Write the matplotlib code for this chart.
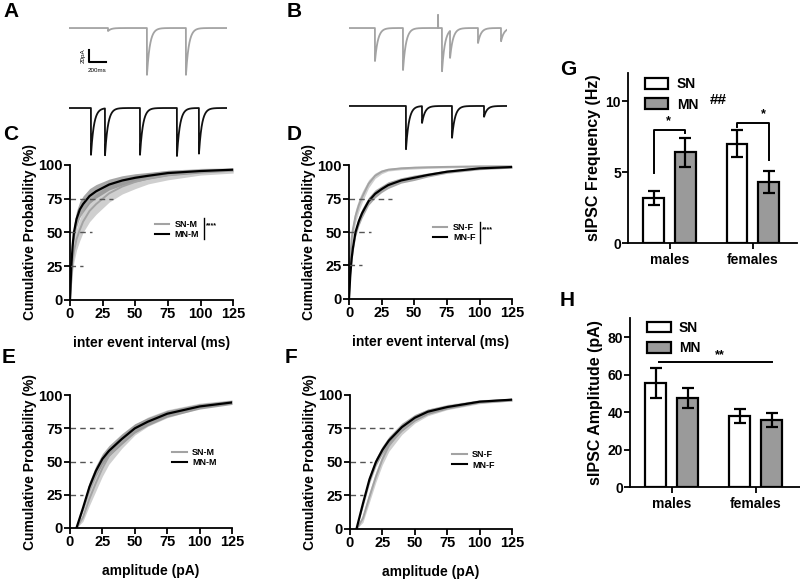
import numpy as np
import matplotlib
matplotlib.use('Agg')
import matplotlib.pyplot as plt
from matplotlib.lines import Line2D
from matplotlib.patches import Patch

plt.rcParams['font.family'] = ['Liberation Sans', 'DejaVu Sans']
plt.rcParams['font.weight'] = 'bold'
plt.rcParams['axes.labelweight'] = 'bold'

# example traces: event times (ms) and amplitudes (pA)
trace_a_len = 1860
trace_a_times = [460, 918, 1377]
trace_a_amps = [5, 78, 78]
trace_c_len = 1905
trace_c_times = [259, 424, 836, 1271, 1530]
trace_c_amps = [78, 78, 78, 80, 76]
trace_b_len = 1905
trace_b_times = [306, 636, 1095, 1190, 1519, 1790]
trace_b_amps = [55, 70, 72, 45, 25, 22]
trace_b_spike_t = 1048
trace_b_spike_a = 22
trace_d_len = 1905
trace_d_times = [671, 860, 1213, 1590]
trace_d_amps = [72, 28, 53, 18]

# cumulative inter event interval (ms) -> probability (%)
iei_x = [0, 1, 2, 3, 5, 7.5, 10, 15, 20, 25, 30, 40, 50, 60, 75, 100, 125]
iei_sn_m = [0, 15, 28, 36, 45, 52, 58, 66, 71, 75, 79, 84, 87.5, 90, 92.5, 95, 96]
iei_sn_m_sem = [0, 5, 7, 8, 8, 8, 8, 8, 7.5, 7, 6.5, 5.5, 5, 4, 3.5, 2.5, 2]
iei_mn_m = [0, 25, 40, 50, 60, 67, 71, 77, 80.5, 83, 85.5, 88.5, 90.5, 92, 94, 95.5, 96.5]
iei_mn_m_sem = [0, 4, 5, 6, 6, 6, 6, 5.5, 5, 4.5, 4, 3.5, 3, 2.5, 2, 1.5, 1]
iei_sn_f = [0, 30, 45, 52, 62, 70, 76, 86, 92, 95, 96.5, 97.5, 98, 98.3, 98.6, 99, 99]
iei_sn_f_sem = [0, 4, 5, 5, 5, 4.5, 4, 3, 2, 1.5, 1, 1, 1, 0.8, 0.8, 0.6, 0.5]
iei_mn_f = [0, 18, 30, 38, 50, 58, 64, 73, 78.5, 82, 85, 88.5, 90.5, 92.5, 95, 97.5, 98.5]
iei_mn_f_sem = [0, 3, 3.5, 3.5, 3.5, 3.5, 3.5, 3, 3, 2.5, 2.5, 2, 2, 1.5, 1.2, 1, 0.8]

# cumulative amplitude (pA) -> probability (%)
amp_x = [5, 10, 15, 20, 25, 30, 40, 50, 60, 75, 100, 125]
amp_sn_m = [0, 8, 22, 34, 45, 54, 65, 74, 80, 86, 92, 95]
amp_sn_m_sem = [0, 3, 5, 6, 6, 6, 5, 4, 3.5, 3, 2, 1.5]
amp_mn_m = [0, 15, 31, 43, 52, 58, 67, 75, 80, 86, 91.5, 94.5]
amp_mn_m_sem = [0, 2.5, 4, 4, 4, 4, 4, 3.5, 3, 2.5, 2, 1.5]
amp_sn_f = [0, 8, 24, 39, 52, 62, 74, 82, 87, 91, 95, 96.5]
amp_sn_f_sem = [0, 3, 4, 4, 4, 4, 3.5, 3, 2.5, 2, 1.5, 1]
amp_mn_f = [0, 19, 37, 50, 59, 66, 76, 83, 87.5, 91, 95, 96.5]
amp_mn_f_sem = [0, 2.5, 3, 3, 3, 3, 3, 2.5, 2, 1.5, 1, 1]

# bar charts
groups = ['males', 'females']
freq_sn = [3.15, 7.0]
freq_sn_err = [0.5, 0.95]
freq_mn = [6.4, 4.3]
freq_mn_err = [1.05, 0.8]
ampl_sn = [55.5, 37.9]
ampl_sn_err = [8.2, 3.8]
ampl_mn = [47.4, 35.8]
ampl_mn_err = [5.4, 3.5]

SN_LINE = '#a3a3a3'
SN_BAND = '#cfcfcf'
MN_BAND = '#8a8a8a'
MN_BAR = '#9a9a9a'

fig = plt.figure(figsize=(8, 5.8), dpi=100)


def make_trace(length, times, amps, tau=35.0):
    t = np.arange(0, length + 1, 1.0)
    y = np.zeros_like(t)
    for t0, a in zip(times, amps):
        dt = t - t0
        on = dt >= 0
        y[on] -= a * np.exp(-dt[on] / tau)
    return t, y


def trace_axes(rect, length, times, amps, color):
    ax = fig.add_axes(rect)
    t, y = make_trace(length, times, amps)
    ax.plot(t, y, color=color, lw=1.3)
    ax.set_xlim(0, 1860)
    ax.set_ylim(-86.7, 30)
    ax.axis('off')
    return ax


axA = trace_axes([0.08625, 0.862, 0.1975, 0.1207], trace_a_len,
                 trace_a_times, trace_a_amps, SN_LINE)
# scale bar 20 pA / 200 ms
axA.plot([235, 235, 435], [-36.7, -56.7, -56.7], color='k', lw=1.5)
axA.text(165, -46.7, '20pA', rotation=90, fontsize=4.5, fontweight='normal',
         ha='center', va='center')
axA.text(335, -70, '200ms', fontsize=4.5, fontweight='normal', ha='center', va='center')

trace_axes([0.08625, 0.7241, 0.1975, 0.1207], trace_c_len,
           trace_c_times, trace_c_amps, '#111111')

axB = fig.add_axes([0.43625, 0.862, 0.1975, 0.1207])
tb, yb = make_trace(trace_b_len, trace_b_times, trace_b_amps)
yb[tb == trace_b_spike_t] += trace_b_spike_a
axB.plot(tb, yb, color=SN_LINE, lw=1.3)
axB.set_xlim(0, 1860)
axB.set_ylim(-86.7, 30)
axB.axis('off')

trace_axes([0.43625, 0.7276, 0.1975, 0.1207], trace_d_len,
           trace_d_times, trace_d_amps, '#111111')


def style_axes(ax, size=10.5):
    for s in ['top', 'right']:
        ax.spines[s].set_visible(False)
    for s in ['left', 'bottom']:
        ax.spines[s].set_linewidth(1.3)
    ax.tick_params(width=1.3, length=4, labelsize=size, pad=1)
    for lab in ax.get_xticklabels() + ax.get_yticklabels():
        lab.set_fontweight('bold')


def cum_panel(rect, x, sn, sn_sem, mn, mn_sem, labels, xlabel, stars, leg_pos):
    ax = fig.add_axes(rect)
    x = np.array(x)
    sn, sn_sem = np.array(sn), np.array(sn_sem)
    mn, mn_sem = np.array(mn), np.array(mn_sem)
    ax.fill_between(x, sn - sn_sem, sn + sn_sem, color=SN_BAND, lw=0)
    ax.fill_between(x, mn - mn_sem, mn + mn_sem, color=MN_BAND, lw=0, alpha=0.75)
    ax.plot(x, sn, color=SN_LINE, lw=1.4)
    ax.plot(x, mn, color='k', lw=1.6)
    ax.hlines([25, 50, 75], 0, [10, 17, 33], colors='#555555', lw=1,
              linestyles=(0, (4, 3)))
    ax.set_xlim(0, 125)
    ax.set_ylim(0, 100)
    ax.set_xticks([0, 25, 50, 75, 100, 125])
    ax.set_yticks([0, 25, 50, 75, 100])
    ax.set_xlabel(xlabel, fontsize=10, labelpad=11)
    ax.set_ylabel('Cumulative Probability (%)', fontsize=10, labelpad=1)
    style_axes(ax)
    handles = [Line2D([], [], color=SN_LINE, lw=1.5), Line2D([], [], color='k', lw=1.5)]
    ax.legend(handles, labels, loc='center left', bbox_to_anchor=leg_pos,
              frameon=False, handlelength=1.6, labelspacing=0.15,
              handletextpad=0.6, borderpad=0, borderaxespad=0,
              prop={'weight': 'bold', 'size': 6.5})
    if stars:
        bx, y0, y1 = stars
        ax.plot([bx, bx], [y0, y1], color='k', lw=1, transform=ax.transAxes,
                clip_on=False)
        ax.text(bx + 0.015, (y0 + y1) / 2 + 0.02, '****', fontsize=5,
                transform=ax.transAxes, ha='left', va='center')
    return ax


cum_panel([0.0875, 0.4828, 0.204, 0.2328], iei_x, iei_sn_m, iei_sn_m_sem,
          iei_mn_m, iei_mn_m_sem, ['SN-M', 'MN-M'], 'inter event interval (ms)',
          (0.82, 0.452, 0.607), (0.52, 0.52))
cum_panel([0.43625, 0.4845, 0.204, 0.231], iei_x, iei_sn_f, iei_sn_f_sem,
          iei_mn_f, iei_mn_f_sem, ['SN-F', 'MN-F'], 'inter event interval (ms)',
          (0.80, 0.418, 0.575), (0.515, 0.496))
cum_panel([0.0875, 0.0897, 0.2025, 0.229], amp_x, amp_sn_m, amp_sn_m_sem,
          amp_mn_m, amp_mn_m_sem, ['SN-M', 'MN-M'], 'amplitude (pA)',
          None, (0.63, 0.53))
cum_panel([0.4375, 0.088, 0.2025, 0.231], amp_x, amp_sn_f, amp_sn_f_sem,
          amp_mn_f, amp_mn_f_sem, ['SN-F', 'MN-F'], 'amplitude (pA)',
          None, (0.63, 0.515))


def bar_panel(rect, sn, sn_err, mn, mn_err, ylim, yticks, ylabel, leg_anchor):
    ax = fig.add_axes(rect)
    xs = np.arange(len(groups))
    ekw = dict(lw=1.6, capthick=1.6)
    ax.bar(xs - 0.19, sn, 0.25, color='white', edgecolor='k', lw=1.6,
           yerr=sn_err, capsize=4.5, error_kw=ekw, label='SN', zorder=2)
    ax.bar(xs + 0.19, mn, 0.25, color=MN_BAR, edgecolor='k', lw=1.6,
           yerr=mn_err, capsize=4.5, error_kw=ekw, label='MN', zorder=2)
    ax.set_xlim(-0.5, 1.53)
    ax.set_ylim(*ylim)
    ax.set_xticks(xs)
    ax.set_xticklabels(groups)
    ax.set_yticks(yticks)
    ax.set_ylabel(ylabel, fontsize=11.5, labelpad=3)
    style_axes(ax)
    ax.tick_params(axis='x', labelsize=10, pad=3)
    ax.tick_params(axis='y', labelsize=10)
    handles = [Patch(facecolor='white', edgecolor='k', lw=1.6),
               Patch(facecolor=MN_BAR, edgecolor='k', lw=1.6)]
    ax.legend(handles, ['SN', 'MN'], loc='upper left', bbox_to_anchor=leg_anchor,
              frameon=False, handlelength=1.7, handleheight=0.8,
              labelspacing=0.45, handletextpad=0.6, borderpad=0, borderaxespad=0,
              prop={'weight': 'bold', 'size': 10})
    return ax, xs


axG, xs = bar_panel([0.785, 0.581, 0.211, 0.293], freq_sn, freq_sn_err,
                    freq_mn, freq_mn_err, (0, 12), [0, 5, 10],
                    'sIPSC Frequency (Hz)', (0.1, 0.975))
# significance brackets (males: SN < MN, females: SN > MN)
axG.plot([xs[0] - 0.19, xs[0] - 0.19, xs[0] + 0.19, xs[0] + 0.19],
         [4.96, 8.0, 8.0, 7.8], color='k', lw=1.4)
axG.text(xs[0] - 0.02, 8.15, '*', fontsize=9, ha='center', va='bottom')
axG.plot([xs[1] - 0.19, xs[1] - 0.19, xs[1] + 0.19, xs[1] + 0.19],
         [8.2, 8.5, 8.5, 5.84], color='k', lw=1.4)
axG.text(xs[1] + 0.13, 8.65, '*', fontsize=9, ha='center', va='bottom')
axG.text(0.59, 10.1, '##', fontsize=11, ha='center', va='center')

axH, xs = bar_panel([0.7875, 0.160, 0.2125, 0.291], ampl_sn, ampl_sn_err,
                    ampl_mn, ampl_mn_err, (0, 90), [0, 20, 40, 60, 80],
                    'sIPSC Amplitude (pA)', (0.1, 0.985))
axH.plot([xs[0] - 0.15, xs[1] + 0.19], [66.7, 66.7], color='k', lw=1.4)
axH.text(0.57, 67.3, '**', fontsize=9, ha='center', va='bottom')

# panel letters
for letter, (px, py) in {'A': (3, 17), 'B': (287, 17), 'C': (3, 140), 'D': (287, 140),
                         'E': (2, 363), 'F': (285, 363), 'G': (560, 75),
                         'H': (560, 306)}.items():
    fig.text(px / 800, 1 - py / 580, letter, fontsize=15, fontweight='bold',
             ha='left', va='baseline')

fig.savefig('out.png', dpi=100)
